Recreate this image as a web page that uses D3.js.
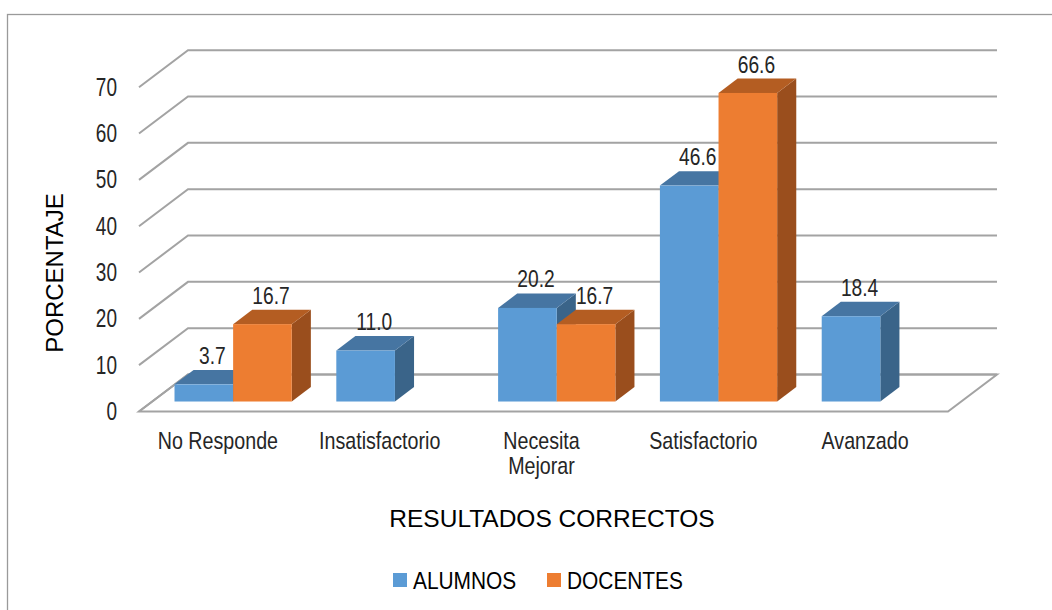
<!DOCTYPE html>
<html>
<head>
<meta charset="utf-8">
<script src="https://cdn.jsdelivr.net/npm/d3@7"></script>
<style>
  html, body { margin: 0; padding: 0; background: #fff; }
  svg { display: block; font-family: "Liberation Sans", Arial, sans-serif; }
</style>
</head>
<body>
<div id="chart"></div>
<script>
// datos
const categories = ['No Responde', 'Insatisfactorio', 'Necesita Mejorar', 'Satisfactorio', 'Avanzado'];
const categoryLines = [['No Responde'], ['Insatisfactorio'], ['Necesita', 'Mejorar'], ['Satisfactorio'], ['Avanzado']];
const seriesNames = ['ALUMNOS', 'DOCENTES'];
const alumnos = [3.7, 11.0, 20.2, 46.6, 18.4];
const docentes = [16.7, null, 16.7, 66.6, null];
const yTicks = [0, 10, 20, 30, 40, 50, 60, 70];

const colors = {
  ALUMNOS: { front: '#5B9BD5', top: '#4675A2', side: '#3A6489' },
  DOCENTES: { front: '#ED7D31', top: '#B45D22', side: '#9A4E1D' }
};

const W = 1052, H = 610;
const svg = d3.select('#chart').append('svg')
  .attr('width', W).attr('height', H);

// borde del gráfico
svg.append('rect')
  .attr('x', 7.5).attr('y', 14.5)
  .attr('width', W + 20).attr('height', H + 20)
  .attr('fill', 'none').attr('stroke', '#9a9a9a').attr('stroke-width', 1.3);

// escalas (plano frontal del suelo)
const depth = { dx: 49, dy: -37 };
const x = d3.scaleBand().domain(categories).range([139, 948]);
const xs = d3.scaleBand().domain(seriesNames).range([0, x.bandwidth()]).paddingOuter(0.38);
const y = d3.scaleLinear().domain([0, 70]).range([411.5, 87.2]);
const backRight = 997;
const f0 = 0.27, f1 = 0.66; // profundidad de las barras

// suelo
svg.append('path')
  .attr('d', `M${x.range()[0]},${y(0)} L${x.range()[1]},${y(0)} L${x.range()[1] + depth.dx},${y(0) + depth.dy} L${x.range()[0] + depth.dx},${y(0) + depth.dy} Z`)
  .attr('fill', '#fff')
  .attr('stroke', '#a3a3a3').attr('stroke-width', 2);

// líneas de cuadrícula
svg.append('g').selectAll('path')
  .data(yTicks)
  .join('path')
  .attr('d', v => `M${x.range()[0]},${y(v)} L${x.range()[0] + depth.dx},${y(v) + depth.dy} L${backRight},${y(v) + depth.dy}`)
  .attr('fill', 'none')
  .attr('stroke', '#a3a3a3')
  .attr('stroke-width', 2);

// etiquetas del eje Y
svg.append('g').selectAll('text')
  .data(yTicks)
  .join('text')
  .attr('transform', v => `translate(117,${y(v) + 8.5}) scale(0.76,1)`)
  .attr('text-anchor', 'end')
  .attr('font-size', 25)
  .attr('fill', '#262626')
  .text(v => v);

// barras 3D
const bars = [];
categories.forEach((c, i) => {
  seriesNames.forEach((s, j) => {
    const v = (j === 0 ? alumnos : docentes)[i];
    if (v == null) return;
    bars.push({ cat: c, series: s, value: v });
  });
});

const bw = xs.bandwidth();
const ddx = depth.dx * (f1 - f0), ddy = depth.dy * (f1 - f0);
const barG = svg.append('g');
bars.forEach(d => {
  const xl = x(d.cat) + xs(d.series) + depth.dx * f0;
  const xr = xl + bw;
  const yb = y(0) + depth.dy * f0;
  const yt = y(d.value) + depth.dy * f0;
  const col = colors[d.series];
  const g = barG.append('g');
  g.append('path')
    .attr('d', `M${xr},${yt} L${xr + ddx},${yt + ddy} L${xr + ddx},${yb + ddy} L${xr},${yb} Z`)
    .attr('fill', col.side);
  g.append('path')
    .attr('d', `M${xl},${yt} L${xl + ddx},${yt + ddy} L${xr + ddx},${yt + ddy} L${xr},${yt} Z`)
    .attr('fill', col.top);
  g.append('rect')
    .attr('x', xl).attr('y', yt)
    .attr('width', bw).attr('height', yb - yt)
    .attr('fill', col.front);
  g.append('text')
    .attr('transform', `translate(${xl + bw / 2 + ddx / 2 - 1},${yt + ddy - 6}) scale(0.8,1)`)
    .attr('text-anchor', 'middle')
    .attr('font-size', 24)
    .attr('fill', '#262626')
    .text(d.value.toFixed(1));
});

// etiquetas de categorías
svg.append('g').selectAll('g')
  .data(categories)
  .join('g')
  .attr('transform', (c) => `translate(${x(c) + x.bandwidth() / 2 - 2},449)`)
  .each(function(c, i) {
    categoryLines[i].forEach((line, k) => {
      d3.select(this).append('text')
        .attr('transform', `translate(0,${k * 24.5}) scale(0.82,1)`)
        .attr('text-anchor', 'middle')
        .attr('font-size', 24)
        .attr('fill', '#262626')
        .text(line);
    });
  });

// títulos de ejes
svg.append('text')
  .attr('transform', 'translate(63,273) rotate(-90)')
  .attr('text-anchor', 'middle')
  .attr('font-size', 24)
  .attr('fill', '#000')
  .text('PORCENTAJE');

svg.append('text')
  .attr('x', 552).attr('y', 527)
  .attr('text-anchor', 'middle')
  .attr('font-size', 24.5)
  .attr('fill', '#000')
  .text('RESULTADOS CORRECTOS');

// leyenda
const legendX = [393, 547];
const legend = svg.append('g').selectAll('g')
  .data(seriesNames)
  .join('g')
  .attr('transform', (s, i) => `translate(${legendX[i]},573)`);
legend.append('rect')
  .attr('width', 14).attr('height', 14)
  .attr('fill', s => colors[s].front);
legend.append('text')
  .attr('transform', 'translate(20,15.5) scale(0.87,1)')
  .attr('font-size', 24)
  .attr('fill', '#000')
  .text(s => s);
</script>
</body>
</html>
